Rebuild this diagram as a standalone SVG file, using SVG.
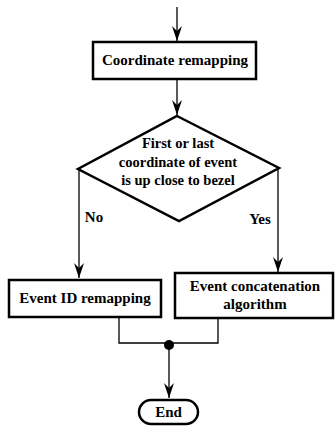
<svg xmlns="http://www.w3.org/2000/svg" width="335" height="426" viewBox="0 0 335 426">
<style>
.box{fill:#fff;stroke:#000;stroke-width:2.5}
.ln{fill:none;stroke:#000;stroke-width:1.3}
.t{font-family:"Liberation Serif","Times New Roman",serif;font-weight:bold;font-size:15px;fill:#000;text-anchor:middle}
.d{font-size:14.5px}
</style>
<defs>
<marker id="ah" viewBox="0 0 15 10" refX="15" refY="5" markerWidth="15" markerHeight="10" markerUnits="userSpaceOnUse" orient="auto">
<path d="M0,0 L15,5 L0,10 L5,5 Z" fill="#000"/>
</marker>
</defs>
<rect width="335" height="426" fill="#fff"/>
<g id="connectors">
<line class="ln" x1="177" y1="7" x2="177" y2="41" marker-end="url(#ah)"/>
<line class="ln" x1="177" y1="80" x2="177" y2="115" marker-end="url(#ah)"/>
<line class="ln" x1="79" y1="169" x2="79" y2="278" marker-end="url(#ah)"/>
<line class="ln" x1="278" y1="167" x2="278" y2="272" marker-end="url(#ah)"/>
<polyline class="ln" points="119,318 119,343 218,343 218,319"/>
<circle cx="169" cy="345" r="5" fill="#000"/>
<line class="ln" x1="169" y1="345" x2="169" y2="398" marker-end="url(#ah)"/>
<text class="t" x="94" y="222">No</text>
<text class="t" x="260" y="224">Yes</text>
</g>
<g id="coord">
<rect class="box" x="93" y="42" width="163" height="37"/>
<text class="t" x="175" y="65">Coordinate remapping</text>
</g>
<g id="decision">
<polygon class="box" points="177,116 279,168 179,221 78,169" stroke-width="2.2"/>
<text class="t d" x="178" y="148">First or last</text>
<text class="t d" x="178" y="167">coordinate of event</text>
<text class="t d" x="178" y="185">is up close to bezel</text>
</g>
<g id="eventid">
<rect class="box" x="9" y="280" width="152" height="37"/>
<text class="t" x="85" y="303">Event ID remapping</text>
</g>
<g id="concat">
<rect class="box" x="175" y="273" width="158" height="45"/>
<text class="t" x="255" y="291">Event concatenation</text>
<text class="t" x="255" y="309">algorithm</text>
</g>
<g id="end">
<rect class="box" x="139" y="400" width="59" height="24" rx="12" ry="12"/>
<text class="t" x="168.5" y="417">End</text>
</g>
</svg>
